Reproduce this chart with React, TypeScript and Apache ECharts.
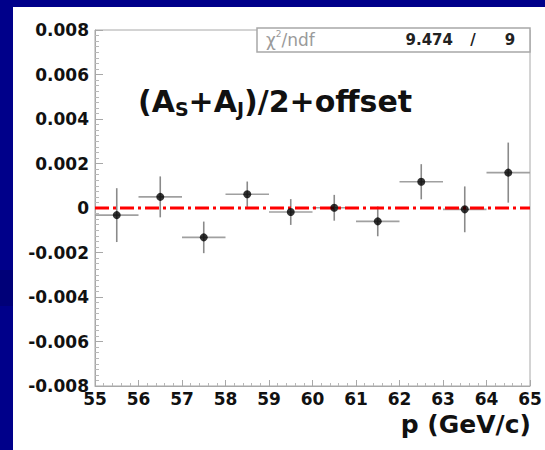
import React, { useEffect, useRef } from "react";
import * as echarts from "echarts";

// bin centres (GeV/c), measured asymmetry values and their errors
const binCenters = [55.5, 56.5, 57.5, 58.5, 59.5, 60.5, 61.5, 62.5, 63.5, 64.5];
const asymValues = [-0.00032, 0.0005, -0.00132, 0.00062, -0.00018, 0.00001, -0.0006, 0.00118, -0.00006, 0.00159];
const asymErrors = [0.00121, 0.00092, 0.00071, 0.00057, 0.00058, 0.00058, 0.00067, 0.00079, 0.00103, 0.00135];
const binWidth = 1;
const fitLevel = [[55, 0], [65, 0]];
const chi2 = "9.474";
const ndf = "9";
const xTitle = "p (GeV/c)";
const FONT = "DejaVu Sans";

export default function App() {
  const ref = useRef<HTMLDivElement>(null);
  useEffect(() => {
    document.body.style.margin = "0";
    const chart = echarts.init(ref.current!, null, { renderer: "svg" });
    const errData = binCenters.map((c, i) => [c, asymValues[i], asymErrors[i]]);
    const ptData = binCenters.map((c, i) => [c, asymValues[i]]);
    chart.setOption({
      animation: false,
      backgroundColor: "transparent",
      grid: {
        left: 95,
        top: 30,
        right: 15,
        bottom: 64,
        show: true,
        borderColor: "#a8a8a8",
        borderWidth: 1,
        backgroundColor: "transparent",
      },
      xAxis: {
        type: "value",
        min: 55,
        max: 65,
        interval: 1,
        axisLine: { show: true, onZero: false, lineStyle: { color: "#a8a8a8", width: 1 } },
        axisTick: { show: true, inside: true, length: 6, lineStyle: { color: "#a8a8a8" } },
        minorTick: { show: true, splitNumber: 5, length: 3, lineStyle: { color: "#b8b8b8" } },
        splitLine: { show: false },
        axisLabel: {
          margin: 4,
          fontFamily: FONT,
          fontWeight: "bold",
          fontSize: 17,
          color: "#111",
        },
      },
      yAxis: {
        type: "value",
        min: -0.008,
        max: 0.008,
        interval: 0.002,
        axisLine: { show: true, onZero: false, lineStyle: { color: "#a8a8a8", width: 1 } },
        axisTick: { show: true, inside: true, length: 8, lineStyle: { color: "#a8a8a8" } },
        minorTick: { show: true, splitNumber: 8, length: 4, lineStyle: { color: "#b8b8b8" } },
        splitLine: { show: false },
        axisLabel: {
          margin: 6,
          fontFamily: FONT,
          fontWeight: "bold",
          fontSize: 17,
          color: "#111",
          formatter: (v: number) => (Math.abs(v) < 1e-9 ? "0" : v.toFixed(3)),
        },
      },
      graphic: {
        elements: [
          {
            type: "rect",
            shape: { x: 257, y: 28, width: 273, height: 24 },
            style: { fill: "#fff", stroke: "#a8a8a8", lineWidth: 1.5 },
            z: 10,
          },
          {
            type: "text",
            x: 266,
            y: 40,
            z: 11,
            style: {
              text: "χ{sup|2}/ndf",
              fontFamily: FONT,
              fontSize: 17,
              fill: "#9a9a9a",
              verticalAlign: "middle",
              lineHeight: 22,
              rich: {
                sup: { fontFamily: FONT, fontSize: 9, fill: "#9a9a9a", verticalAlign: "top", lineHeight: 9 },
              },
            },
          },
          {
            type: "text",
            x: 453,
            y: 40,
            z: 11,
            style: {
              text: chi2,
              fontFamily: FONT,
              fontWeight: "bold",
              fontSize: 15,
              fill: "#222",
              align: "right",
              verticalAlign: "middle",
            },
          },
          {
            type: "text",
            x: 473,
            y: 40,
            z: 11,
            style: {
              text: "/",
              fontFamily: FONT,
              fontWeight: "bold",
              fontSize: 15,
              fill: "#222",
              align: "center",
              verticalAlign: "middle",
            },
          },
          {
            type: "text",
            x: 510,
            y: 40,
            z: 11,
            style: {
              text: ndf,
              fontFamily: FONT,
              fontWeight: "bold",
              fontSize: 15,
              fill: "#222",
              align: "center",
              verticalAlign: "middle",
            },
          },
          {
            type: "text",
            x: 138,
            y: 101,
            z: 11,
            style: {
              text: "(A{sub|S}+A{sub|J})/2+offset",
              fontFamily: FONT,
              fontWeight: "bold",
              fontSize: 30,
              fill: "#111",
              verticalAlign: "middle",
              lineHeight: 35,
              rich: {
                sub: {
                  fontFamily: FONT,
                  fontWeight: "bold",
                  fontSize: 19,
                  fill: "#111",
                  verticalAlign: "bottom",
                  lineHeight: 19,
                },
              },
            },
          },
          {
            type: "text",
            x: 531,
            y: 424,
            z: 11,
            style: {
              text: xTitle,
              fontFamily: FONT,
              fontWeight: "bold",
              fontSize: 25,
              fill: "#111",
              align: "right",
              verticalAlign: "middle",
            },
          },
        ],
      },
      series: [
        {
          type: "custom",
          data: errData,
          encode: { x: 0, y: 1 },
          z: 2,
          renderItem: (params: any, api: any) => {
            const x = api.value(0);
            const y = api.value(1);
            const e = api.value(2);
            const l = api.coord([x - binWidth / 2, y]);
            const r = api.coord([x + binWidth / 2, y]);
            const t = api.coord([x, y + e]);
            const b = api.coord([x, y - e]);
            return {
              type: "group",
              children: [
                {
                  type: "line",
                  shape: { x1: l[0], y1: l[1], x2: r[0], y2: r[1] },
                  style: { stroke: "#a0a0a0", lineWidth: 1.6 },
                },
                {
                  type: "line",
                  shape: { x1: t[0], y1: t[1], x2: b[0], y2: b[1] },
                  style: { stroke: "#8a8a8a", lineWidth: 1.6 },
                },
              ],
            };
          },
        },
        {
          type: "line",
          data: fitLevel,
          symbol: "none",
          z: 3,
          lineStyle: { color: "#ff0000", width: 3, type: [14, 4, 3, 4] },
        },
        {
          type: "scatter",
          data: ptData,
          symbol: "circle",
          symbolSize: 8,
          z: 4,
          itemStyle: { color: "#000" },
        },
      ],
    });
    return () => chart.dispose();
  }, []);

  return (
    <div style={{ position: "fixed", left: 0, top: 0, width: 545, height: 450, background: "#00008a", overflow: "hidden" }}>
      <div style={{ position: "absolute", left: 0, top: 270, width: 13, height: 36, background: "#000078" }} />
      <div style={{ position: "absolute", left: 13, top: 7, width: 532, height: 443, background: "#ffffff" }} />
      <div ref={ref} style={{ position: "absolute", left: 0, top: 0, width: 545, height: 450 }} />
    </div>
  );
}
